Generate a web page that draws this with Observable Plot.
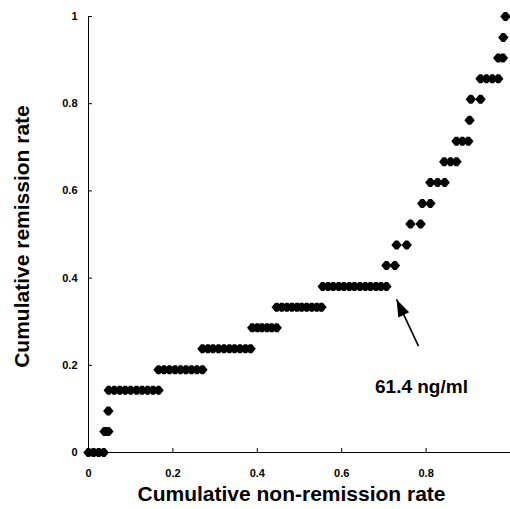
<!DOCTYPE html>
<html>
<head>
<meta charset="utf-8">
<script src="https://cdn.jsdelivr.net/npm/d3@7"></script>
<script src="https://cdn.jsdelivr.net/npm/@observablehq/plot@0.6"></script>
<style>
  body { margin: 0; background: #fff; }
  #chart svg { display: block; }
</style>
</head>
<body>
<div id="chart"></div>
<script>
// Cumulative remission rate (y) for each horizontal row of points
const remissionRate = [0, 0.048, 0.095, 0.143, 0.190, 0.238, 0.286, 0.333, 0.381, 0.429, 0.476,
  0.524, 0.571, 0.619, 0.667, 0.714, 0.762, 0.810, 0.857, 0.905, 0.952, 1];

// Cumulative non-remission rate (x) of each point in that row
const nonRemissionByRow = [
  [0, 0.012, 0.024, 0.036],
  [0.038, 0.047],
  [0.047],
  [0.048, 0.061, 0.074, 0.087, 0.100, 0.114, 0.127, 0.140, 0.153, 0.166],
  [0.166, 0.179, 0.192, 0.205, 0.218, 0.231, 0.244, 0.257, 0.270],
  [0.270, 0.283, 0.295, 0.308, 0.321, 0.334, 0.346, 0.359, 0.372, 0.384],
  [0.388, 0.400, 0.411, 0.423, 0.434, 0.446],
  [0.446, 0.458, 0.470, 0.482, 0.494, 0.505, 0.517, 0.529, 0.541, 0.552],
  [0.555, 0.568, 0.580, 0.593, 0.605, 0.618, 0.630, 0.643, 0.656, 0.668, 0.681, 0.693, 0.706],
  [0.706, 0.726],
  [0.730, 0.754],
  [0.763, 0.787],
  [0.791, 0.810],
  [0.810, 0.827, 0.844],
  [0.843, 0.858, 0.872],
  [0.872, 0.886, 0.900],
  [0.903],
  [0.906, 0.929],
  [0.929, 0.943, 0.957, 0.971],
  [0.971, 0.982],
  [0.983],
  [0.988]
];

const xTicks = [0, 0.2, 0.4, 0.6, 0.8];
const yTicks = [0, 0.2, 0.4, 0.6, 0.8, 1];
const xTitle = "Cumulative non-remission rate";
const yTitle = "Cumulative remission rate";

// Annotation: cut-off label and arrow (from tail to tip)
const cutoffLabel = [{label: "61.4 ng/ml", x: 0.789, y: 0.150}];
const cutoffArrow = [{x1: 0.782, y1: 0.244, x2: 0.730, y2: 0.351}];

const points = remissionRate.flatMap((y, i) => nonRemissionByRow[i].map(x => ({x, y})));

const fmt = d => (d === 0 ? "0" : d === 1 ? "1" : String(d));

// blunt diamond, like the low-resolution spreadsheet marker
const diamond = {
  draw(ctx) {
    const w = 5.2, h = 4.5, f = 1.5;
    ctx.moveTo(-w, 0); ctx.lineTo(-f, -h); ctx.lineTo(f, -h); ctx.lineTo(w, 0);
    ctx.lineTo(f, h); ctx.lineTo(-f, h); ctx.closePath();
  }
};
const arrowHead = {
  draw(ctx) {
    ctx.moveTo(0, 0); ctx.lineTo(6, 17); ctx.lineTo(-6, 17); ctx.closePath();
  }
};

const chart = Plot.plot({
  width: 510,
  height: 509,
  marginLeft: 88,
  marginRight: 0,
  marginTop: 16,
  marginBottom: 57,
  style: {fontFamily: "'Liberation Sans', Arial, sans-serif", background: "#fff", color: "#000"},
  x: {domain: [0, 1]},
  y: {domain: [0, 1]},
  marks: [
    Plot.ruleY([0], {stroke: "#000", strokeWidth: 1}),
    Plot.ruleX([0], {stroke: "#000", strokeWidth: 1}),
    Plot.axisX(xTicks.filter(d => d > 0), {tickSize: 4, dy: -4, tickFormat: () => "", label: null, stroke: "#000"}),
    Plot.axisX(xTicks, {tickSize: 0, tickPadding: 17, tickFormat: fmt, label: null, fontSize: 11, fontWeight: "bold", fill: "#000"}),
    Plot.axisY(yTicks.filter(d => d > 0), {tickSize: 4, dx: 4, tickFormat: () => "", label: null, stroke: "#000"}),
    Plot.axisY(yTicks, {tickSize: 0, tickPadding: 11, tickFormat: fmt, label: null, fontSize: 11, fontWeight: "bold", fill: "#000"}),
    Plot.dot(points, {x: "x", y: "y", symbol: diamond, fill: "#000", stroke: null}),
    Plot.link(cutoffArrow, {x1: "x1", y1: "y1", x2: "x2", y2: "y2", stroke: "#000", strokeWidth: 1.6}),
    Plot.dot(cutoffArrow, {x: "x2", y: "y2", symbol: arrowHead, rotate: -25, fill: "#000", stroke: null}),
    Plot.text(cutoffLabel, {x: "x", y: "y", text: "label", fontSize: 19, fontWeight: "bold", fill: "#000"}),
    Plot.text([xTitle], {text: d => d, frameAnchor: "bottom", dx: -8, dy: 48, fontSize: 21, fontWeight: "bold", fill: "#000"}),
    Plot.text([yTitle], {text: d => d, frameAnchor: "left", textAnchor: "middle", dx: -66, dy: 2, rotate: -90, fontSize: 21, fontWeight: "bold", fill: "#000"})
  ]
});
document.getElementById("chart").appendChild(chart);
</script>
</body>
</html>
